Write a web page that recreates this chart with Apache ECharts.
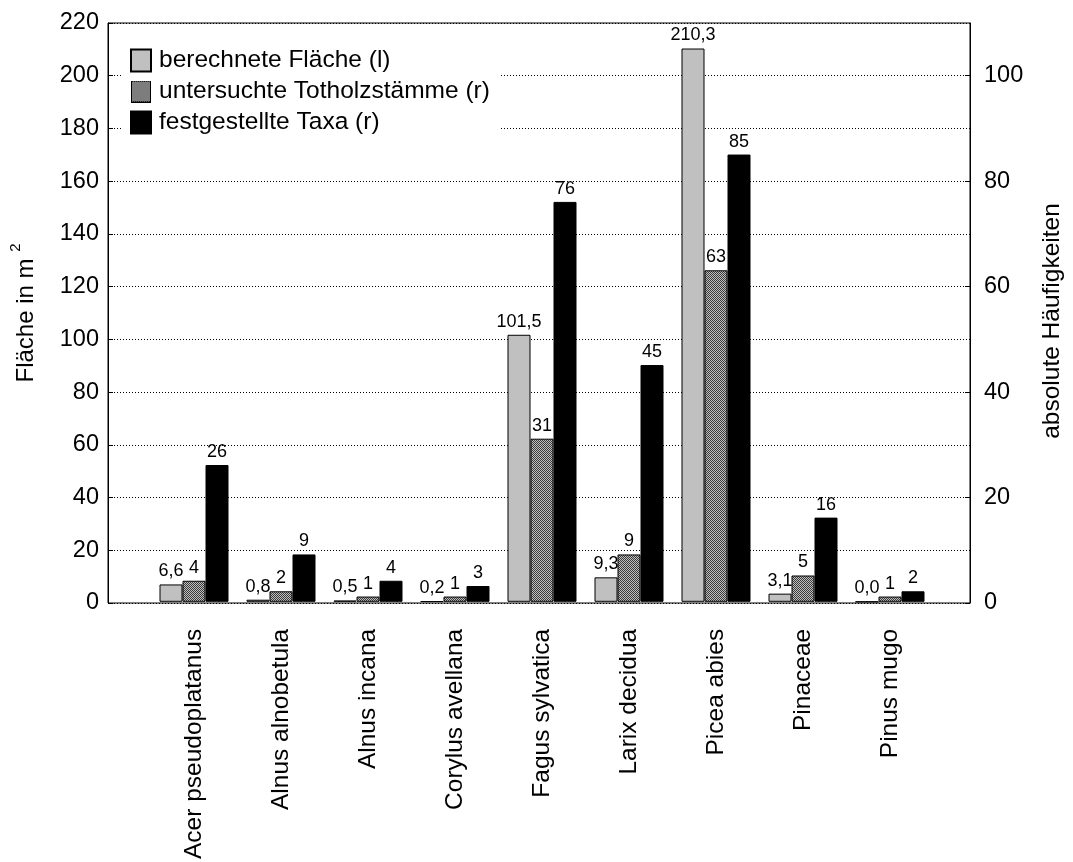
<!DOCTYPE html>
<html>
<head>
<meta charset="utf-8">
<script src="https://cdn.jsdelivr.net/npm/echarts@6/dist/echarts.min.js"></script>
<style>html,body{margin:0;padding:0;background:#fff}#c{width:1073px;height:862px}</style>
</head>
<body>
<div id="c"></div>
<script>
const categories = ['Acer pseudoplatanus','Alnus alnobetula','Alnus incana','Corylus avellana','Fagus sylvatica','Larix decidua','Picea abies','Pinaceae','Pinus mugo'];
const flaeche = [6.6, 0.8, 0.5, 0.2, 101.5, 9.3, 210.3, 3.1, 0.0];
const staemme = [4, 2, 1, 1, 31, 9, 63, 5, 1];
const taxa = [26, 9, 4, 3, 76, 45, 85, 16, 2];
const seriesNames = ['berechnete Fläche (l)', 'untersuchte Totholzstämme (r)', 'festgestellte Taxa (r)'];
const leftTicks = {min: 0, max: 220, interval: 20};
const rightTicks = {min: 0, max: 110, interval: 20};

// hatch pattern
const pc = document.createElement('canvas');
pc.width = 2; pc.height = 2;
const px = pc.getContext('2d');
px.fillStyle = '#c0c0c0'; px.fillRect(0,0,2,2);
px.fillStyle = '#3a3a3a'; px.fillRect(0,0,1,1); px.fillRect(1,1,1,1);
const hatch = {image: pc, repeat: 'repeat'};

// legend icon with hatch
const ic = document.createElement('canvas');
ic.width = 20; ic.height = 22;
const ix = ic.getContext('2d');
for (let y = 0; y < 22; y++) for (let x = 0; x < 20; x++) {
  ix.fillStyle = ((x + y) % 2 === 0) ? '#3a3a3a' : '#c0c0c0';
  ix.fillRect(x, y, 1, 1);
}
ix.strokeStyle = '#000'; ix.lineWidth = 1; ix.strokeRect(0.5, 0.5, 19, 21);
const hatchIcon = 'image://' + ic.toDataURL();

const FONT = 'Liberation Sans, Arial, sans-serif';
const chart = echarts.init(document.getElementById('c'), null, {renderer: 'canvas'});
const labelStyle = {show: true, position: 'top', distance: 4, color: '#000', fontSize: 18, fontFamily: FONT};

chart.setOption({
  animation: false,
  backgroundColor: '#fff',
  textStyle: {fontFamily: FONT},
  grid: [
    {left: 107, right: 97, top: 23, bottom: 259, show: true, borderColor: '#000', borderWidth: 1},
    {left: 150.5, right: 139.5, top: 23, bottom: 259}
  ],
  legend: {
    orient: 'vertical', left: 121, top: 39,
    padding: [9, 10, 4, 9], itemGap: 6,
    itemWidth: 20, itemHeight: 22, icon: 'rect',
    backgroundColor: '#fff',
    textStyle: {fontSize: 24.5, color: '#000', fontFamily: FONT, padding: [0, 0, 0, 3], lineHeight: 24},
    data: [
      {name: seriesNames[0]},
      {name: seriesNames[1], icon: hatchIcon},
      {name: seriesNames[2]}
    ],
    z: 10
  },
  xAxis: [
    {type: 'value', gridIndex: 0, min: 0, max: 1, show: false},
    {type: 'category', gridIndex: 1, data: categories,
     axisLine: {show: false}, axisTick: {show: false},
     axisLabel: {rotate: 90, interval: 0, fontSize: 24.5, color: '#000', margin: 27, fontFamily: FONT}}
  ],
  yAxis: [
    {type: 'value', gridIndex: 0, position: 'left', min: leftTicks.min, max: leftTicks.max, interval: leftTicks.interval,
     axisLine: {show: true, lineStyle: {color: '#000', width: 1}},
     axisTick: {show: true, inside: true, length: 5, lineStyle: {color: '#000'}},
     axisLabel: {fontSize: 23.5, color: '#000', margin: 9, fontFamily: FONT},
     splitLine: {show: true, lineStyle: {color: '#000', width: 1, type: [1, 2]}},
     name: '{a|Fläche in m }{s|2}', nameLocation: 'middle', nameGap: 70, nameRotate: 90,
     nameTextStyle: {rich: {a: {fontSize: 24, color: '#000', fontFamily: FONT, lineHeight: 30, verticalAlign: 'bottom'}, s: {fontSize: 15, color: '#000', fontFamily: FONT, verticalAlign: 'top', lineHeight: 30}}}
    },
    {type: 'value', gridIndex: 0, position: 'right', min: rightTicks.min, max: rightTicks.max, interval: rightTicks.interval,
     axisLine: {show: true, lineStyle: {color: '#000', width: 1}},
     axisTick: {show: true, inside: true, length: 5, lineStyle: {color: '#000'}},
     axisLabel: {fontSize: 23.5, color: '#000', margin: 14, fontFamily: FONT, showMaxLabel: false},
     splitLine: {show: false},
     name: 'absolute Häufigkeiten', nameLocation: 'middle', nameGap: 70, nameRotate: 90,
     nameTextStyle: {fontSize: 24.5, color: '#000', fontFamily: FONT, padding: [0, 16, 0, 0]}
    },
    {type: 'value', gridIndex: 1, min: leftTicks.min, max: leftTicks.max, show: false, splitLine: {show: false}},
    {type: 'value', gridIndex: 1, min: rightTicks.min, max: rightTicks.max, show: false, splitLine: {show: false}}
  ],
  series: [
    {name: seriesNames[0], type: 'bar', xAxisIndex: 1, yAxisIndex: 2, data: flaeche,
     barWidth: 23, barGap: '0%',
     itemStyle: {color: '#c0c0c0', borderColor: '#000', borderWidth: 1},
     label: Object.assign({}, labelStyle, {formatter: p => p.value.toFixed(1).replace('.', ',')})},
    {name: seriesNames[1], type: 'bar', xAxisIndex: 1, yAxisIndex: 3, data: staemme,
     barWidth: 23, barGap: '0%',
     itemStyle: {color: hatch, borderColor: '#000', borderWidth: 1},
     label: labelStyle},
    {name: seriesNames[2], type: 'bar', xAxisIndex: 1, yAxisIndex: 3, data: taxa,
     barWidth: 23, barGap: '0%',
     itemStyle: {color: '#000', borderColor: '#000', borderWidth: 1},
     label: labelStyle}
  ]
});
</script>
</body>
</html>
